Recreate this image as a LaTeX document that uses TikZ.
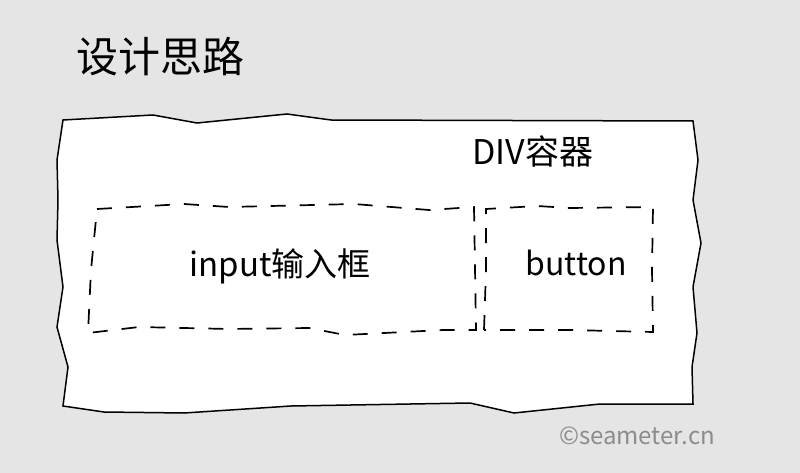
\documentclass[tikz,border=0pt]{standalone}
\usepackage{fontspec}
\setmainfont{Noto Sans CJK SC}
\begin{document}
\begin{tikzpicture}[x=1pt,y=-1pt,
  outline/.style={draw=black,line width=1.5pt,fill=white,line join=miter},
  dashbox/.style={draw=black,line width=1.7pt,dash pattern=on 15pt off 14pt},
  lbl/.style={inner sep=0pt,anchor=center}]
\fill[fill=black!10] (0,0) rectangle (800,473);
\useasboundingbox (0,0) rectangle (800,473);
% outer container
\draw[outline] (63,120) -- (153,115) -- (197,123) -- (287,114) -- (331,120) -- (693,121)
  -- (698,160) -- (693,200) -- (701,243) -- (693,287) -- (697,333) -- (692,367) -- (693,404)
  -- (600,404) -- (514,413) -- (470,403) -- (291,406) -- (184,413) -- (104,412) -- (63,406)
  -- (68,367) -- (57,327) -- (63,287) -- (57,240) -- (58,200) -- (57,160) -- cycle;
% input box
\draw[dashbox] (97,209) -- (184,204) -- (229,207) -- (354,204) -- (429,210) -- (474,207)
  -- (476,330) -- (443,330) -- (345,335) -- (309,328) -- (229,329) -- (139,327) -- (88,333)
  -- (91,270) -- cycle;
% button box
\draw[dashbox] (484,330) -- (486,270) -- (486,209) -- (537,206) -- (570,208) -- (653,207)
  -- (652,270) -- (653,332) -- (570,330) -- cycle;
\node[lbl] (title) at (160,57) {\fontsize{42}{46}\selectfont 设计思路};
\node[lbl] (div) at (533,151) {\fontsize{34}{37}\selectfont DIV容器};
\node[lbl] (input) at (280,266) {\fontsize{33}{36}\selectfont input输入框};
\node[lbl] (button) at (576,263) {\fontsize{32}{35}\selectfont button};
\node[lbl,text=black!45] (mark) at (637,436) {\fontsize{24}{26}\selectfont ©seameter.cn};
\end{tikzpicture}
\end{document}
